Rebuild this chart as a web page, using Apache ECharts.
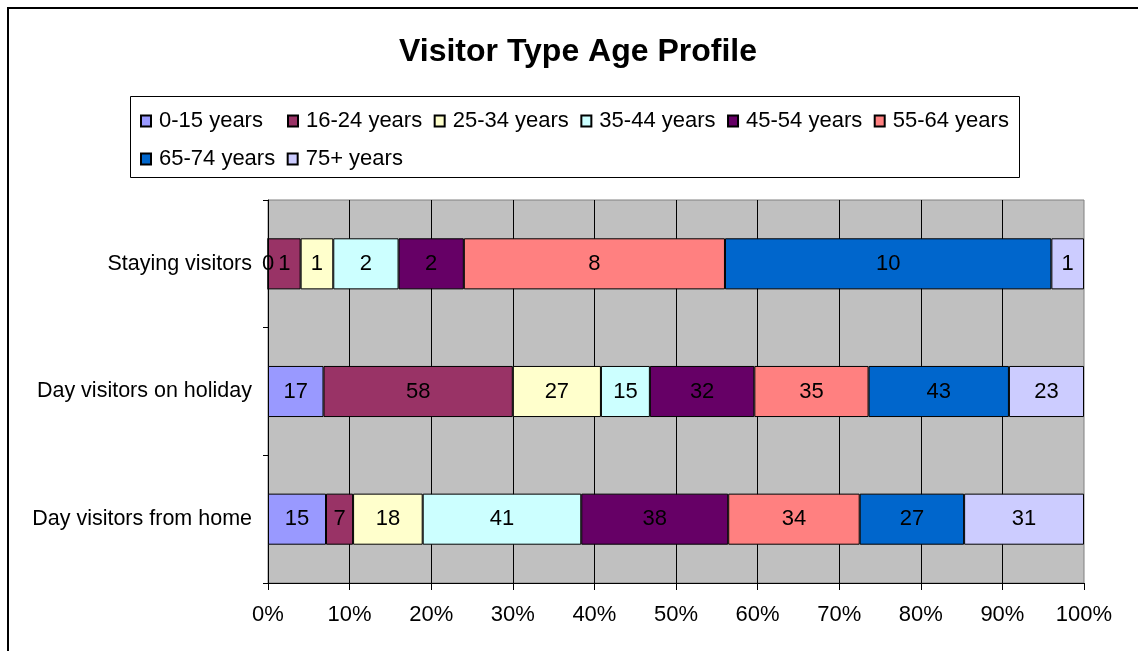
<!DOCTYPE html>
<html>
<head>
<meta charset="utf-8">
<script src="https://cdn.jsdelivr.net/npm/echarts@6/dist/echarts.min.js"></script>
<style>
  html, body { margin: 0; padding: 0; background: #fff; }
  #chart { width: 1138px; height: 651px; }
</style>
</head>
<body>
<div id="chart"></div>
<script>
// categories, bottom to top as echarts draws them
var categories = ['Day visitors from home', 'Day visitors on holiday', 'Staying visitors'];
var ageGroups = ['0-15 years', '16-24 years', '25-34 years', '35-44 years', '45-54 years', '55-64 years', '65-74 years', '75+ years'];
var colors = ['#9999FF', '#993366', '#FFFFCC', '#CCFFFF', '#660066', '#FF8080', '#0066CC', '#CCCCFF'];

// raw counts per age group, one per category (home, holiday, staying)
var age0_15  = [15, 17, 0];
var age16_24 = [7, 58, 1];
var age25_34 = [18, 27, 1];
var age35_44 = [41, 15, 2];
var age45_54 = [38, 32, 2];
var age55_64 = [34, 35, 8];
var age65_74 = [27, 43, 10];
var age75    = [31, 23, 1];

var raw = [age0_15, age16_24, age25_34, age35_44, age45_54, age55_64, age65_74, age75];

var totals = categories.map(function (c, i) {
    var s = 0;
    raw.forEach(function (arr) { s += arr[i]; });
    return s;
});

var font = 'Liberation Sans, Arial, sans-serif';
var fs = 22;

var chart = echarts.init(document.getElementById('chart'));

var series = ageGroups.map(function (name, k) {
    return {
        name: name,
        type: 'bar',
        stack: 'total',
        barCategoryGap: '60%',
        data: raw[k].map(function (v, i) { return v / totals[i] * 100; }),
        itemStyle: { color: colors[k], borderColor: '#000', borderWidth: 1 },
        label: {
            show: true,
            position: 'inside',
            color: '#000',
            fontFamily: font,
            fontSize: fs,
            formatter: function (p) { return raw[k][p.dataIndex]; }
        }
    };
});

var legendBase = {
    orient: 'horizontal',
    itemWidth: 10,
    itemHeight: 11,
    itemGap: 11.5,
    icon: 'rect',
    textStyle: { color: '#000', fontFamily: font, fontSize: fs, padding: [0, 0, 0, 3] },
    selectedMode: false
};

var option = {
    backgroundColor: '#fff',
    animation: false,
    title: {
        text: 'Visitor Type Age Profile',
        left: 394,
        top: 31,
        textStyle: { fontFamily: font, fontSize: 32, fontWeight: 'bold', color: '#000' }
    },
    legend: [
        Object.assign({}, legendBase, { left: 135, top: 105, data: ageGroups.slice(0, 1) }),
        Object.assign({}, legendBase, { left: 282, top: 105, data: ageGroups.slice(1, 6) }),
        Object.assign({}, legendBase, { left: 135, top: 143, data: ageGroups.slice(6) })
    ],
    graphic: [
        {
            type: 'rect',
            shape: { x: 8, y: 8, width: 1200, height: 700 },
            style: { fill: 'none', stroke: '#000', lineWidth: 2 },
            silent: true
        },
        {
            type: 'rect',
            shape: { x: 130.5, y: 96.5, width: 889, height: 81 },
            style: { fill: 'none', stroke: '#000', lineWidth: 1 },
            silent: true
        }
    ],
    grid: {
        left: 268,
        right: 54,
        top: 200,
        bottom: 68,
        show: true,
        backgroundColor: '#C0C0C0',
        borderColor: '#808080',
        borderWidth: 1
    },
    xAxis: {
        type: 'value',
        min: 0,
        max: 100,
        interval: 10,
        axisLine: { show: true, lineStyle: { color: '#000', width: 1 } },
        axisTick: { show: true, length: 7, lineStyle: { color: '#000' } },
        axisLabel: {
            formatter: '{value}%',
            color: '#000',
            fontFamily: font,
            fontSize: fs,
            margin: 21
        },
        splitLine: { show: true, showMaxLine: false, lineStyle: { color: '#000', width: 1 } }
    },
    yAxis: {
        type: 'category',
        data: categories,
        axisLine: { show: true, lineStyle: { color: '#000', width: 1 } },
        axisTick: { show: true, length: 5, lineStyle: { color: '#000' } },
        axisLabel: { color: '#000', fontFamily: font, fontSize: 21.5, margin: 16 },
        splitLine: { show: false }
    },
    series: series
};

chart.setOption(option);
</script>
</body>
</html>
